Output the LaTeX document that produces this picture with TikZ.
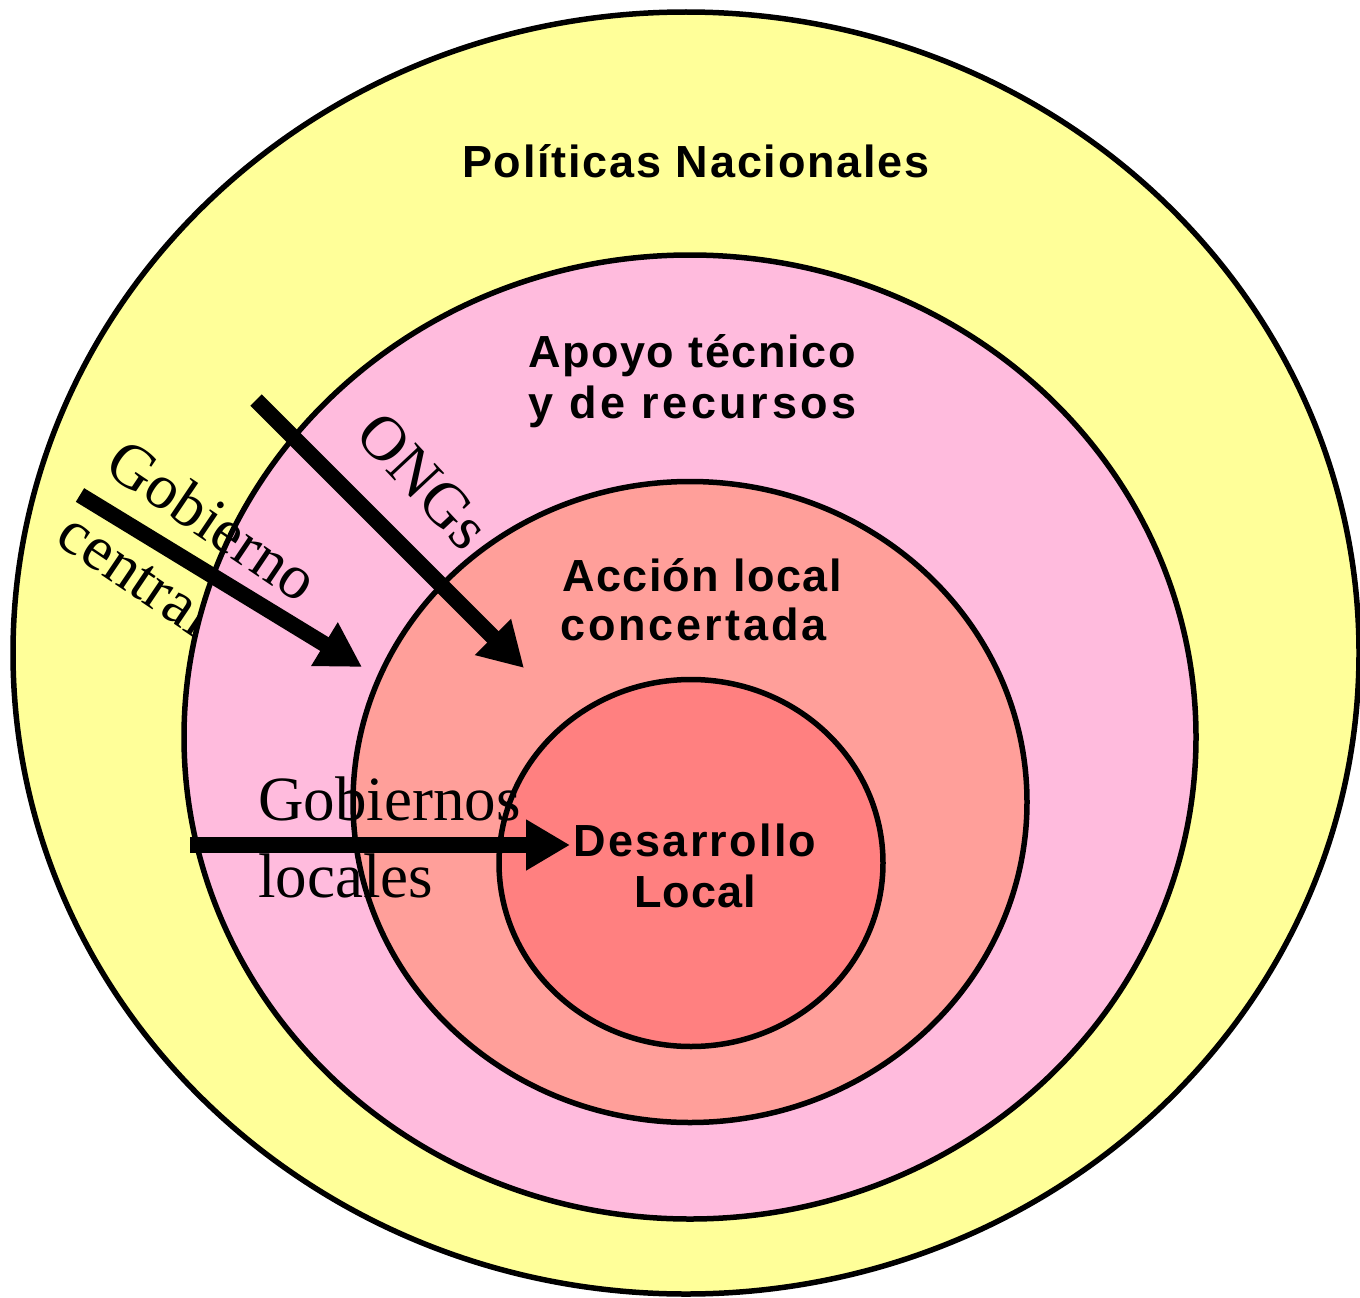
\documentclass[tikz,border=0pt]{standalone}
\usepackage{fontspec}
\setmainfont{Liberation Serif}
\setsansfont{Liberation Sans}
\usetikzlibrary{shapes.geometric,arrows.meta}
\definecolor{yel}{HTML}{FFFF99}
\definecolor{pinkc}{HTML}{FFBBDD}
\definecolor{salmonc}{HTML}{FF9F9A}
\definecolor{redc}{HTML}{FF8080}
\begin{document}
\begin{tikzpicture}[x=1pt,y=-1pt,
  ring/.style={ellipse, draw=black, line width=5.5pt, inner sep=0pt},
  boldtxt/.style={font=\sffamily\bfseries\fontsize{45}{51}\selectfont, inner sep=0pt},
  seriftxt/.style={font=\rmfamily\fontsize{63}{77}\selectfont, inner sep=0pt},
  bigarrow/.style={line width=16pt, -{Triangle[length=44pt,width=48pt]}}
]
\useasboundingbox (0,0) rectangle (1360,1298);
% outer ring
\node[ring, fill=yel, minimum width=1346pt, minimum height=1282pt] (nac) at (686,653) {};
% text partly hidden by the pink ring
\node[seriftxt, rotate=-34] (central) at (137,573) {central};
\node[ring, fill=pinkc, minimum width=1012pt, minimum height=964pt] (apoyo) at (690,737) {};
\node[ring, fill=salmonc, minimum width=674pt, minimum height=641pt] (accion) at (690,802) {};
\node[ring, fill=redc, minimum width=384pt, minimum height=367pt] (des) at (691,863) {};
% arrows
\coordinate (gcTail) at (80,495);
\coordinate (gcTip) at (362,667);
\coordinate (ongTail) at (256,400);
\coordinate (ongTip) at (524,668);
\coordinate (glTail) at (190,845);
\coordinate (glTip) at (570,845);
\draw[bigarrow] (gcTail) -- (gcTip);
\draw[bigarrow] (ongTail) -- (ongTip);
\draw[bigarrow] (glTail) -- (glTip);
% bold labels
\node[boldtxt, anchor=base] (t1) at (696,177) {\addfontfeature{LetterSpace=4}Políticas Nacionales};
\node[boldtxt, anchor=base west] (t2a) at (528,367) {\addfontfeature{LetterSpace=3.5}Apoyo técnico};
\node[boldtxt, anchor=base west] (t2b) at (528,418) {\addfontfeature{LetterSpace=8}y de recursos};
\node[boldtxt, anchor=base west] (t3a) at (562,591) {\addfontfeature{LetterSpace=3.2}Acción local};
\node[boldtxt, anchor=base west] (t3b) at (560,640) {\addfontfeature{LetterSpace=6.5}concertada};
\node[boldtxt, anchor=base] (t4a) at (695,856) {\addfontfeature{LetterSpace=5}Desarrollo};
\node[boldtxt, anchor=base] (t4b) at (695,907) {\addfontfeature{LetterSpace=2}Local};
% serif labels
\node[seriftxt, rotate=-34] (gob) at (213,520) {Gobierno};
\node[seriftxt, rotate=-47] (ong) at (423,481) {ONGs};
\node[seriftxt, anchor=base west] (gl1) at (258,820) {Gobiernos};
\node[seriftxt, anchor=base west] (gl2) at (258,897) {locales};
\end{tikzpicture}
\end{document}
